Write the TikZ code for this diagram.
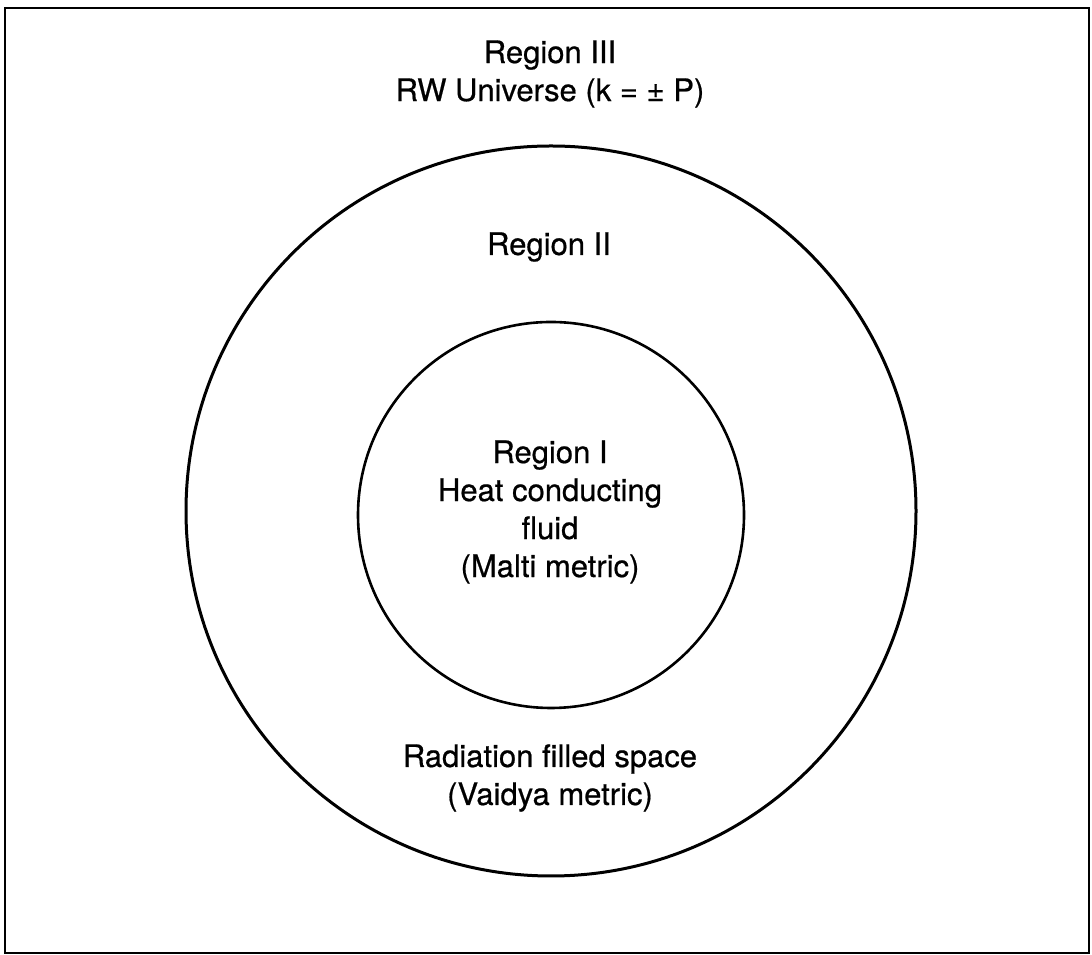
\documentclass[tikz,border=0pt]{standalone}
\usepackage{fontspec}
\setmainfont[FakeBold=0.6]{TeX Gyre Heros}
\begin{document}
\begin{tikzpicture}[x=1pt,y=1pt,
  lbl/.style={align=center,inner sep=0pt,font=\fontsize{31}{38}\selectfont},
  ring/.style={draw=black,line width=3pt}]
\useasboundingbox (0,0) rectangle (1092,955);
\draw[line width=2.2pt] (5,2) rectangle (1089,947);
\node[ring,circle,minimum size=730pt,inner sep=0pt] (outer) at (551,444) {};
\node[draw=black,line width=2.6pt,circle,minimum size=386pt,inner sep=0pt] (inner) at (551,440) {};
\node[lbl] (r3) at (550,881) {Region III\\RW Universe (k = \char"00B1{} P)};
\node[lbl] (r2) at (549,708) {Region II};
\node[lbl] (r1) at (550,443) {Region I\\Heat conducting\\fluid\\(Malti metric)};
\node[lbl] (rad) at (550,177) {Radiation filled space\\(Vaidya metric)};
\end{tikzpicture}
\end{document}
